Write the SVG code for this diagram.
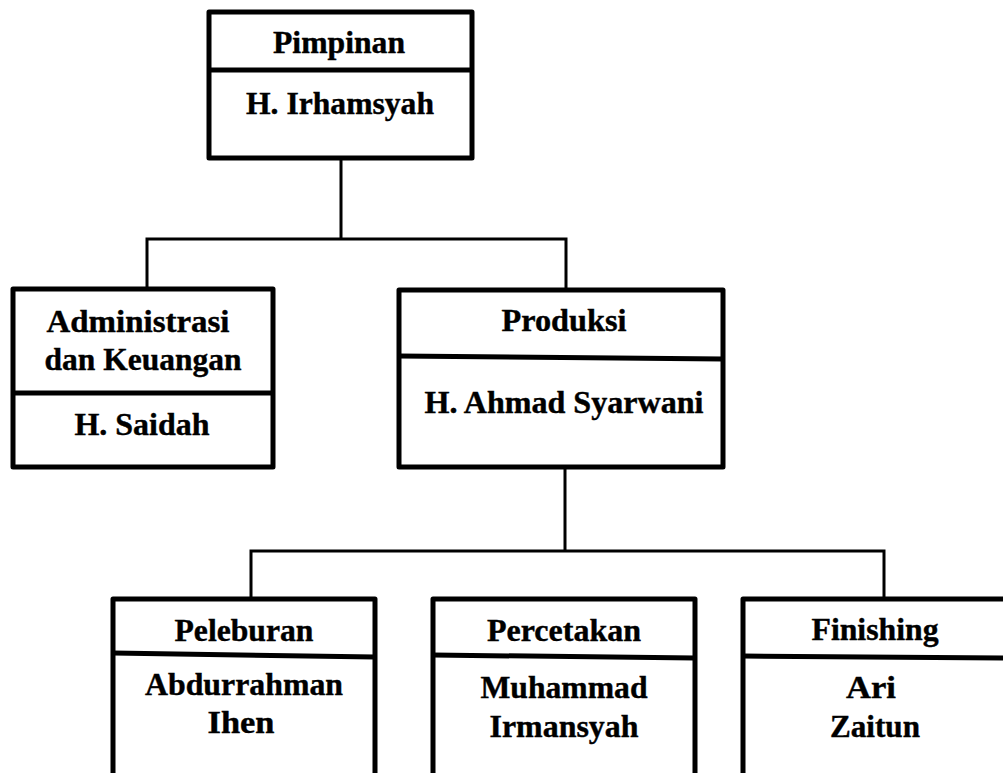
<svg xmlns="http://www.w3.org/2000/svg" width="1003" height="773" viewBox="0 0 1003 773">
<style>
.box{fill:#fff;stroke:#000;stroke-width:5;stroke-linejoin:round}
.div{stroke:#000;stroke-width:5;fill:none}
.con{stroke:#000;stroke-width:3;fill:none}
text{font-family:"Liberation Serif","Times New Roman",serif;font-weight:700;font-size:31px;text-anchor:middle;fill:#000;stroke:#000;stroke-width:0.4}
</style>
<rect width="1003" height="773" fill="#fff"/>
<g id="connectors">
<path class="con" d="M341 158V239M147 289V239H566V290"/>
<path class="con" d="M565 467V551M251 599V551H884V599"/>
</g>
<g id="pimpinan">
<rect class="box" x="209" y="12" width="263" height="146"/>
<line class="div" x1="209" y1="70" x2="472" y2="70"/>
<text x="339" y="53" textLength="132" lengthAdjust="spacingAndGlyphs">Pimpinan</text>
<text x="340" y="114" textLength="188" lengthAdjust="spacingAndGlyphs">H. Irhamsyah</text>
</g>
<g id="administrasi">
<rect class="box" x="13" y="289" width="260" height="178"/>
<line class="div" x1="13" y1="393" x2="273" y2="393"/>
<text x="138" y="332" textLength="183" lengthAdjust="spacingAndGlyphs">Administrasi</text>
<text x="143" y="370" textLength="197" lengthAdjust="spacingAndGlyphs">dan Keuangan</text>
<text x="142" y="435" textLength="135" lengthAdjust="spacingAndGlyphs">H. Saidah</text>
</g>
<g id="produksi">
<rect class="box" x="399" y="290" width="324" height="177"/>
<line class="div" x1="399" y1="356" x2="723" y2="359"/>
<text x="564" y="331" textLength="125" lengthAdjust="spacingAndGlyphs">Produksi</text>
<text x="564" y="413" textLength="279" lengthAdjust="spacingAndGlyphs">H. Ahmad Syarwani</text>
</g>
<g id="peleburan">
<rect class="box" x="113" y="599" width="262" height="190"/>
<line class="div" x1="113" y1="653" x2="375" y2="657"/>
<text x="244" y="641" textLength="139" lengthAdjust="spacingAndGlyphs">Peleburan</text>
<text x="244" y="695" textLength="198" lengthAdjust="spacingAndGlyphs">Abdurrahman</text>
<text x="241" y="733" textLength="67" lengthAdjust="spacingAndGlyphs">Ihen</text>
</g>
<g id="percetakan">
<rect class="box" x="433" y="599" width="262" height="190"/>
<line class="div" x1="433" y1="655" x2="695" y2="658"/>
<text x="564" y="641" textLength="154" lengthAdjust="spacingAndGlyphs">Percetakan</text>
<text x="564" y="698" textLength="167" lengthAdjust="spacingAndGlyphs">Muhammad</text>
<text x="564" y="737" textLength="149" lengthAdjust="spacingAndGlyphs">Irmansyah</text>
</g>
<g id="finishing">
<rect class="box" x="743" y="599" width="275" height="190"/>
<line class="div" x1="743" y1="656" x2="1010" y2="658"/>
<text x="875" y="640" textLength="127" lengthAdjust="spacingAndGlyphs">Finishing</text>
<text x="871" y="698" textLength="50" lengthAdjust="spacingAndGlyphs">Ari</text>
<text x="875" y="737" textLength="90" lengthAdjust="spacingAndGlyphs">Zaitun</text>
</g>
</svg>
